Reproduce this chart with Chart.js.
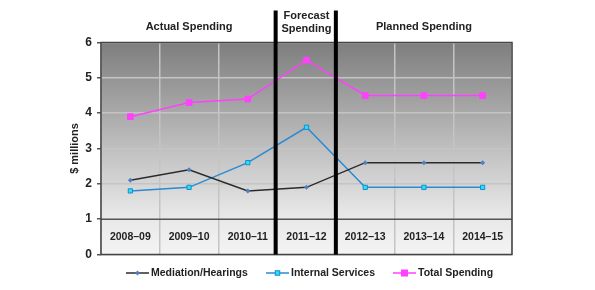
<!DOCTYPE html>
<html>
<head>
<meta charset="utf-8">
<script src="https://cdn.jsdelivr.net/npm/chart.js@4"></script>
<style>
html,body{margin:0;padding:0;background:#fff;}
#wrap{width:595px;height:290px;position:relative;}
</style>
</head>
<body>
<div id="wrap"><canvas id="c" width="595" height="290"></canvas></div>
<script>
const categories = ["2008\u201309","2009\u201310","2010\u201311","2011\u201312","2012\u201313","2013\u201314","2014\u201315"];
const mediation = [2.1, 2.4, 1.8, 1.9, 2.6, 2.6, 2.6];
const internalServices = [1.8, 1.9, 2.6, 3.6, 1.9, 1.9, 1.9];
const totalSpending = [3.9, 4.3, 4.4, 5.5, 4.5, 4.5, 4.5];
const seriesNames = ["Mediation/Hearings","Internal Services","Total Spending"];
const yTicks = [0,1,2,3,4,5,6];
const sectionTitles = [
  {label:["Actual Spending"], from:0, to:2},
  {label:["Forecast","Spending"], from:3, to:3},
  {label:["Planned Spending"], from:4, to:6}
];
const FAMILY = '"Liberation Sans", Arial, sans-serif';
const FONT = 'bold 10.5px ' + FAMILY;

const bgPlugin = {
  id:'bg',
  beforeDraw(chart){
    const {ctx, chartArea:a} = chart;
    ctx.save();
    const g = ctx.createLinearGradient(0,a.top,0,a.bottom);
    g.addColorStop(0,'#7e7e7e');
    g.addColorStop(0.55,'#c6c6c6');
    g.addColorStop(0.8,'#e6e6e6');
    g.addColorStop(1,'#f4f4f4');
    ctx.fillStyle = g;
    ctx.fillRect(a.left,a.top,a.right-a.left,a.bottom-a.top);
    ctx.restore();
  },
  afterDraw(chart){
    const {ctx, chartArea:a, scales} = chart;
    const x = scales.x, y = scales.y;
    ctx.save();
    const y1 = y.getPixelForValue(1);
    ctx.strokeStyle = '#555';
    ctx.lineWidth = 1.5;
    ctx.beginPath(); ctx.moveTo(a.left,y1); ctx.lineTo(a.right,y1); ctx.stroke();
    // category labels inside the plot
    ctx.fillStyle = '#222';
    ctx.font = FONT;
    ctx.textAlign = 'center';
    ctx.textBaseline = 'middle';
    const ly = (y.getPixelForValue(0)+y1)/2;
    categories.forEach((c,i)=>{ ctx.fillText(c, x.getPixelForValue(i), ly); });
    // border
    ctx.strokeStyle = '#444';
    ctx.lineWidth = 1.5;
    ctx.strokeRect(a.left,a.top,a.right-a.left,a.bottom-a.top);
    // thick separators
    ctx.fillStyle = '#000';
    [2.5,3.5].forEach((v,k)=>{
      const px = x.getPixelForValue(v) - (k===0?1.5:0);
      ctx.fillRect(px-2, 10.5, 4, a.bottom-10.5);
    });
    // section titles
    ctx.fillStyle = '#222';
    ctx.font = 'bold 11px ' + FAMILY;
    sectionTitles.forEach(s=>{
      const cx = (x.getPixelForValue(s.from)+x.getPixelForValue(s.to))/2;
      if(s.label.length===1){
        ctx.fillText(s.label[0], cx, 27);
      } else {
        ctx.fillText(s.label[0], cx, 15.5);
        ctx.fillText(s.label[1], cx, 28.5);
      }
    });
    // legend
    const items = [
      {x:126, ds:chart.data.datasets[0]},
      {x:266, ds:chart.data.datasets[1]},
      {x:393, ds:chart.data.datasets[2]}
    ];
    const ly2 = 273;
    ctx.font = FONT;
    items.forEach(it=>{
      const ds = it.ds;
      ctx.strokeStyle = ds.borderColor;
      ctx.lineWidth = 1.5;
      ctx.beginPath(); ctx.moveTo(it.x,ly2); ctx.lineTo(it.x+23,ly2); ctx.stroke();
      const mx = it.x+11.5;
      ctx.fillStyle = ds.pointBackgroundColor;
      ctx.strokeStyle = ds.pointBorderColor;
      ctx.lineWidth = 1;
      const r = ds.pointRadius;
      if(ds.pointStyle==='rectRot'){
        ctx.beginPath(); ctx.moveTo(mx,ly2-r); ctx.lineTo(mx+r,ly2); ctx.lineTo(mx,ly2+r); ctx.lineTo(mx-r,ly2); ctx.closePath(); ctx.fill();
      } else {
        const h = r*0.75;
        ctx.fillRect(mx-h,ly2-h,h*2,h*2);
        ctx.strokeRect(mx-h,ly2-h,h*2,h*2);
      }
      ctx.fillStyle = '#222';
      ctx.textAlign = 'left';
      ctx.textBaseline = 'middle';
      ctx.fillText(ds.label, it.x+25, ly2);
    });
    ctx.restore();
  }
};

new Chart(document.getElementById('c'), {
  type:'line',
  data:{
    labels:categories,
    datasets:[
      {label:seriesNames[0], data:mediation, borderColor:'#2b2b2b', borderWidth:1.5,
       pointStyle:'rectRot', pointRadius:2.5, pointBackgroundColor:'#4f81bd', pointBorderColor:'#4f81bd', pointBorderWidth:0},
      {label:seriesNames[1], data:internalServices, borderColor:'#2a8ad4', borderWidth:1.5,
       pointStyle:'rect', pointRadius:3, pointBackgroundColor:'#22e5f5', pointBorderColor:'#1a8ad0', pointBorderWidth:1},
      {label:seriesNames[2], data:totalSpending, borderColor:'#ff40ff', borderWidth:1.5,
       pointStyle:'rect', pointRadius:4, pointBackgroundColor:'#ff40ff', pointBorderColor:'#ff40ff', pointBorderWidth:1}
    ]
  },
  options:{
    responsive:false,
    animation:false,
    devicePixelRatio:1,
    layout:{padding:{left:68,right:83,top:42.5,bottom:0}},
    plugins:{legend:{display:false},tooltip:{enabled:false}},
    scales:{
      x:{
        offset:true,
        grid:{display:true, offset:true, color:'#c4c4c4', lineWidth:1.5, drawTicks:false},
        border:{display:false},
        ticks:{display:false},
        afterFit(s){ s.height = 35.5; }
      },
      y:{
        min:0, max:6,
        afterBuildTicks(s){ s.ticks = yTicks.map(v=>({value:v})); },
        grid:{color:(c)=> c.tick && c.tick.value===1 ? 'rgba(0,0,0,0)' : '#c4c4c4', lineWidth:1.5, tickLength:4, tickColor:'#555'},
        border:{display:false},
        ticks:{color:'#222', font:{family:FAMILY, size:12, weight:'bold'}, padding:5},
        title:{display:true, text:'$ millions', color:'#222', font:{family:FAMILY, size:11, weight:'bold'}, padding:{top:0,bottom:2}},
        afterFit(s){ s.width = 33; }
      }
    }
  },
  plugins:[bgPlugin]
});
</script>
</body>
</html>
